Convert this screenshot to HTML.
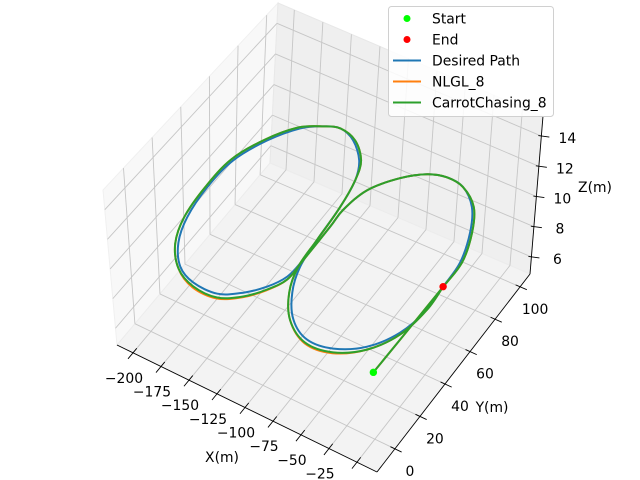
<!DOCTYPE html>
<html><head><meta charset="utf-8"><style>
html,body{margin:0;padding:0;background:#fff;}
svg{display:block;font-family:"DejaVu Sans","Liberation Sans",sans-serif;}
</style></head><body>
<svg id="chart" width="640" height="480" viewBox="0 0 640 480">
<g id="panes"></g>
<g id="grid"></g>
<g id="axes"></g>
<g id="series"></g>
<text x="222" y="462" font-size="13.9" text-anchor="middle">X(m)</text>
<text x="492" y="412" font-size="13.9" text-anchor="middle">Y(m)</text>
<text x="595" y="192" font-size="13.9" text-anchor="middle">Z(m)</text>
<g>
<rect x="388.5" y="6.5" width="165" height="110" rx="3" fill="#fff" fill-opacity="0.85" stroke="#d0d0d0"/>
<g><circle cx="407" cy="18.5" r="3.5" fill="#00ff00"/><text x="432" y="23.5" font-size="13.9">Start</text></g>
<g><circle cx="407" cy="39.5" r="3.5" fill="#ff0000"/><text x="432" y="44.5" font-size="13.9">End</text></g>
<g><line x1="393" y1="60.5" x2="421" y2="60.5" stroke="#1f77b4" stroke-width="2"/><text x="432" y="65.5" font-size="13.9">Desired Path</text></g>
<g><line x1="393" y1="81.5" x2="421" y2="81.5" stroke="#ff7f0e" stroke-width="2"/><text x="432" y="86.5" font-size="13.9">NLGL_8</text></g>
<g><line x1="393" y1="102.5" x2="421" y2="102.5" stroke="#2ca02c" stroke-width="2"/><text x="432" y="107.5" font-size="13.9">CarrotChasing_8</text></g>
</g>
</svg>
<script>
// axis limits and ticks
var xLim = [-214.3, 17.9];
var yLim = [-14.3, 107.9];
var zLim = [4.87, 15.33];
var xTicks = [-200, -175, -150, -125, -100, -75, -50, -25, 0];
var xTickLabels = ["\u2212200", "\u2212175", "\u2212150", "\u2212125", "\u2212100", "\u221275", "\u221250", "\u221225", "0"];
var yTicks = [0, 20, 40, 60, 80, 100];
var yTickLabels = ["0", "20", "40", "60", "80", "100"];
var zTicks = [6, 8, 10, 12, 14];
var zTickLabels = ["6", "8", "10", "12", "14"];

// desired path (figure-8)
var desiredX = [-100.2,-103.4,-108.5,-116.9,-131.8,-146.8,-158.9,-172.6,-186.9,-197.4,-198.9,-194.8,-186.2,-171.9,-155.0,-133.9,-118.2,-106.4,-99.1,-98.2,-99.0,-99.9,-95.3,-80.8,-65.3,-50.8,-35.2,-18.4,-5.7,3.8,5.7,7.6,2.5,-11.1,-31.5,-52.7,-72.2,-87.4,-96.4,-100.2];
var desiredY = [43.2,63.4,79.1,89.2,97.4,100.5,98.0,92.3,79.8,63.3,45.1,26.7,12.7,1.9,-2.8,-2.9,3.1,11.0,19.9,31.1,52.0,62.6,76.8,89.1,96.5,99.0,97.7,90.1,77.7,61.9,47.4,33.6,17.4,4.1,-3.8,-5.2,1.2,13.5,27.2,43.2];
var desiredZ = [10,10,10,10,10,10,10,10,10,10,10,10,10,10,10,10,10,10,10,10,10,10,10,10,10,10,10,10,10,10,10,10,10,10,10,10,10,10,10,10];

// NLGL_8 trajectory
var nlglX = [6.4,5.8,5.0,-4.4,-17.2,-35.2,-50.8,-65.3,-80.8,-95.3,-99.9,-99.0,-97.9,-97.6,-104.9,-116.2,-132.0,-153.0,-172.0,-187.7,-196.7,-200.2,-199.2,-188.8,-174.4,-158.9,-146.8,-130.5,-115.7,-108.5,-103.4,-100.2,-97.6,-89.3,-73.7,-52.4,-29.6,-9.6,3.5,7.6,5.7];
var nlglY = [-6.3,44.0,62.3,78.1,90.5,97.7,99.0,96.5,89.1,76.8,62.6,52.0,30.0,18.4,9.1,0.8,-5.3,-5.2,0.6,11.6,26.0,44.7,63.3,79.8,92.3,98.0,100.5,97.8,89.6,79.1,63.4,43.2,26.8,12.8,0.1,-7.4,-6.1,2.8,16.5,33.6,47.4];
var nlglZ = [10,10,10,10,10,10,10,10,10,10,10,10,10,10,10,10,10,10,10,10,10,10,10,10,10,10,10,10,10,10,10,10,10,10,10,10,10,10,10,10,10];

// CarrotChasing_8 trajectory
var carrotX = [6.4,5.8,5.0,-4.4,-17.2,-35.2,-50.8,-65.3,-80.8,-95.3,-99.9,-99.0,-97.9,-97.6,-104.9,-116.2,-132.0,-153.0,-172.0,-187.7,-196.7,-200.2,-199.2,-188.8,-174.4,-158.9,-146.8,-130.5,-115.7,-108.5,-103.4,-100.2,-97.6,-89.3,-73.7,-52.4,-29.6,-9.6,3.5,7.6,5.7];
var carrotY = [-6.3,44.0,62.3,78.1,90.5,97.7,99.0,96.5,89.1,76.8,62.6,52.0,30.0,18.6,9.6,1.3,-4.7,-4.6,0.6,11.6,26.0,44.7,63.3,79.8,92.3,98.0,100.5,97.8,89.6,79.1,63.4,43.2,26.8,12.8,0.1,-7.0,-5.6,2.8,16.5,33.6,47.4];
var carrotZ = [10,10,10,10,10,10,10,10,10,10,10,10,10,10,10,10,10,10,10,10,10,10,10,10,10,10,10,10,10,10,10,10,10,10,10,10,10,10,10,10,10];

var startPoint = [6.4, -6.3, 10];
var endPoint = [5.7, 47.4, 10];

// screen corners of the axes box (projection geometry)
var C = {c000:[117,345], c100:[377,472], c110:[530,274], c010:[270,163],
         c001:[103,190], c101:[375,307], c111:[543,116], c011:[278,3]};
function lerp(a,b,t){return [a[0]+(b[0]-a[0])*t, a[1]+(b[1]-a[1])*t];}
function proj(x,y,z){
  var u=(x-xLim[0])/(xLim[1]-xLim[0]), v=(y-yLim[0])/(yLim[1]-yLim[0]), w=(z-zLim[0])/(zLim[1]-zLim[0]);
  var b0=lerp(lerp(C.c000,C.c100,u),lerp(C.c010,C.c110,u),v);
  var b1=lerp(lerp(C.c001,C.c101,u),lerp(C.c011,C.c111,u),v);
  return lerp(b0,b1,w);
}
var NS="http://www.w3.org/2000/svg";
function mk(tag,attrs,parent){var e=document.createElementNS(NS,tag);for(var k in attrs)e.setAttribute(k,attrs[k]);parent.appendChild(e);return e;}
function pts(arr){return arr.map(function(p){return p[0].toFixed(1)+","+p[1].toFixed(1);}).join(" ");}
function smoothPath(p,closed){
  var n=p.length, d="M"+p[0][0].toFixed(1)+","+p[0][1].toFixed(1);
  for(var i=0;i<n-1;i++){
    var p0=i>0?p[i-1]:(closed?p[n-2]:p[i]);
    var p1=p[i], p2=p[i+1];
    var p3=i+2<n?p[i+2]:(closed?p[1]:p[i+1]);
    var c1=[p1[0]+(p2[0]-p0[0])/6, p1[1]+(p2[1]-p0[1])/6];
    var c2=[p2[0]-(p3[0]-p1[0])/6, p2[1]-(p3[1]-p1[1])/6];
    d+=" C"+c1[0].toFixed(1)+","+c1[1].toFixed(1)+" "+c2[0].toFixed(1)+","+c2[1].toFixed(1)+" "+p2[0].toFixed(1)+","+p2[1].toFixed(1);
  }
  return d;
}

var panes=document.getElementById('panes');
var X0=xLim[0],X1=xLim[1],Y0=yLim[0],Y1=yLim[1],Z0=zLim[0],Z1=zLim[1];
var pl=mk('polygon',{points:pts([proj(X0,Y0,Z0),proj(X0,Y0,Z1),proj(X0,Y1,Z1),proj(X0,Y1,Z0)]),fill:'#f8f8f8',stroke:'#f0f0f0'},panes);


var pb=mk('polygon',{points:pts([proj(X0,Y1,Z0),proj(X0,Y1,Z1),proj(X1,Y1,Z1),proj(X1,Y1,Z0)]),fill:'#efefef',stroke:'#e8e8e8'},panes);


var pf=mk('polygon',{points:pts([proj(X0,Y0,Z0),proj(X1,Y0,Z0),proj(X1,Y1,Z0),proj(X0,Y1,Z0)]),fill:'#f3f3f3',stroke:'#ececec'},panes);



var grid=document.getElementById('grid');
function gl(a,b,name){var p1=proj(a[0],a[1],a[2]),p2=proj(b[0],b[1],b[2]);
  var l=mk('line',{x1:p1[0],y1:p1[1],x2:p2[0],y2:p2[1],stroke:'#c6c6c6','stroke-width':0.9},grid);
  
  }
xTicks.forEach(function(x){gl([x,Y0,Z0],[x,Y1,Z0],'x-grid-floor');gl([x,Y1,Z0],[x,Y1,Z1],'x-grid-back');});
yTicks.forEach(function(y){gl([X0,y,Z0],[X1,y,Z0],'y-grid-floor');gl([X0,y,Z0],[X0,y,Z1],'y-grid-left');});
zTicks.forEach(function(z){gl([X0,Y0,z],[X0,Y1,z],'z-grid-left');gl([X0,Y1,z],[X1,Y1,z],'z-grid-back');});

var axes=document.getElementById('axes');
function al(a,b,name){var p1=proj(a[0],a[1],a[2]),p2=proj(b[0],b[1],b[2]);
  var l=mk('line',{x1:p1[0],y1:p1[1],x2:p2[0],y2:p2[1],stroke:'#000','stroke-width':0.9},axes);
  
  }
al([X0,Y0,Z0],[X1,Y0,Z0],'x-axis-line');
al([X1,Y0,Z0],[X1,Y1,Z0],'y-axis-line');
al([X1,Y1,Z0],[X1,Y1,Z1],'z-axis-line');
function lab(x,y,s,name){var t=mk('text',{x:x,y:y,'font-size':13.9,'text-anchor':'middle','dominant-baseline':'central'},axes);t.textContent=s;
  
  }
xTicks.forEach(function(x,i){al([x,Y0+3,Z0],[x,Y0-4,Z0],'x-tick');var p=proj(x,Y0,Z0);lab(p[0]-9,p[1]+26,xTickLabels[i],'x-tick-label');});
yTicks.forEach(function(y,i){al([X1-4,y,Z0],[X1+6,y,Z0],'y-tick');var p=proj(X1,y,Z0);lab(p[0]+15,p[1]+23,yTickLabels[i],'y-tick-label');});
zTicks.forEach(function(z,i){var p=proj(X1,Y1,z);var l=mk('line',{x1:p[0]-3,y1:p[1]-0.5,x2:p[0]+8,y2:p[1]+1,stroke:'#000','stroke-width':0.9},axes);
  
  
  lab(p[0]+26,p[1]+3,zTickLabels[i],'z-tick-label');});

var series=document.getElementById('series');
function line(xs,ys,zs,color,name,closed){var p=xs.map(function(x,i){return proj(x,ys[i],zs[i]);});
  var e=mk('path',{d:smoothPath(p,closed),fill:'none',stroke:color,'stroke-width':2,'stroke-linejoin':'round','stroke-linecap':'round'},series);
  
  }
line(desiredX,desiredY,desiredZ,'#1f77b4','desired-path-line',true);
line(nlglX,nlglY,nlglZ,'#ff7f0e','nlgl-8-line',false);
line(carrotX,carrotY,carrotZ,'#2ca02c','carrot-chasing-8-line',false);
var sp=proj(startPoint[0],startPoint[1],startPoint[2]);
var sc=mk('circle',{cx:sp[0],cy:sp[1],r:3.7,fill:'#00ff00'},series);


var ep=proj(endPoint[0],endPoint[1],endPoint[2]);
var ec=mk('circle',{cx:ep[0],cy:ep[1],r:3.7,fill:'#ff0000'},series);


</script>
</body></html>
